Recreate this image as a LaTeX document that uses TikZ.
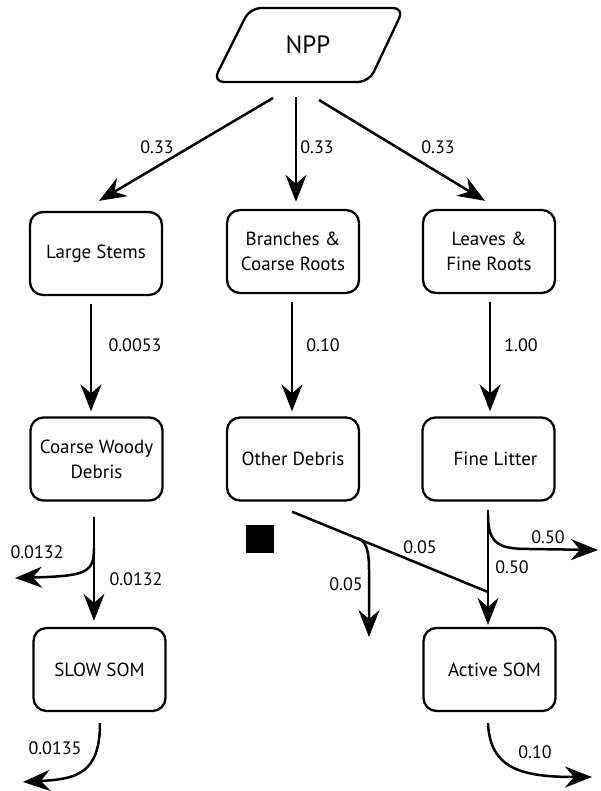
\documentclass[tikz,border=0pt]{standalone}
\usepackage{fontspec}
\setmainfont{PT Sans}
\usetikzlibrary{arrows.meta}
\begin{document}
\begin{tikzpicture}[x=1pt,y=-1pt,
  box/.style={draw, line width=2.3pt, rounded corners=13pt, minimum width=132pt, minimum height=83pt, align=center, font=\fontsize{19}{25}\selectfont, inner sep=0pt},
  arr/.style={line width=2.5pt, -{Stealth[length=27pt,width=21pt,inset=9pt]}},
  ln/.style={line width=2.5pt},
  lbl/.style={font=\fontsize{18}{20}\selectfont, inner sep=0pt}]
\useasboundingbox (0,0) rectangle (600,791);

% NPP
\draw[line width=2.3pt, rounded corners=11pt] (213,82) -- (250,8) -- (404,8) -- (369,82) -- cycle;
\node[font=\fontsize{25}{25}\selectfont, inner sep=0pt] (NPP) at (308,45) {NPP};

% boxes
\node[box] (LS) at (96,253.5) {Large Stems};
\node[box] (BR) at (293,251.5) {Branches \&\\Coarse Roots};
\node[box] (LF) at (489,251.5) {Leaves \&\\Fine Roots};
\node[box] (CWD) at (96.5,459) {Coarse Woody\\Debris};
\node[box] (OD) at (293,459) {Other Debris};
\node[box] (FL) at (488.5,459) {\hspace*{14pt}Fine Litter};
\node[box] (SS) at (99.5,669.5) {SLOW SOM};
\node[box] (AS) at (489.5,669.5) {\hspace*{10pt}Active SOM};

\node[fill=black, minimum size=28pt, inner sep=0pt] (sq) at (259.5,539) {};

% coordinates
\coordinate (n1) at (273,98);
\coordinate (n2) at (296,97);
\coordinate (n3) at (319,100);
\coordinate (J) at (488,592);
\coordinate (e1) at (15,578);
\coordinate (e2) at (369,637);
\coordinate (e3) at (598,550);
\coordinate (e4) at (23,782);
\coordinate (e5) at (592,777);

% NPP arrows
\draw[arr] (n1) -- ([xshift=3pt,yshift=10pt]LS.north);
\draw[arr] (n2) -- ([xshift=3pt,yshift=7pt]BR.north);
\draw[arr] (n3) -- ([xshift=-4pt,yshift=8pt]LF.north);
\node[lbl] at (157,147) {0.33};
\node[lbl] at (317,147) {0.33};
\node[lbl] at (438,147) {0.33};

% row1 -> row2
\draw[arr] ([xshift=-5pt,yshift=-8pt]LS.south) -- ([xshift=-5.5pt,yshift=5pt]CWD.north);
\draw[arr] ([xshift=-1pt,yshift=-8pt]BR.south) -- ([xshift=-1pt,yshift=5pt]OD.north);
\draw[arr] ([xshift=1pt,yshift=-8pt]LF.south) -- ([xshift=1.5pt,yshift=5pt]FL.north);
\node[lbl] at (135,345) {0.0053};
\node[lbl] at (323,345) {0.10};
\node[lbl] at (521,345) {1.00};

% left column
\draw[arr] ([xshift=-2.5pt,yshift=-15pt]CWD.south) -- ([xshift=-5.5pt,yshift=6pt]SS.north);
\draw[arr] (94,548) .. controls (94,573) and (86,576) .. (e1);
\node[lbl] at (37,552) {0.0132};
\node[lbl] at (136,579) {0.0132};

% middle
\draw[ln] ([xshift=-1pt,yshift=-10pt]OD.south) -- (J);
\draw[arr] (358,538) .. controls (367,542) and (369,552) .. (369,570) -- (e2);
\node[lbl] at (420,547) {0.05};
\node[lbl] at (346,584) {0.05};

% right
\draw[arr] ([xshift=-0.5pt,yshift=-8pt]FL.south) -- ([xshift=-1.5pt,yshift=2pt]AS.north);
\draw[arr] (488,515) .. controls (488,545) and (500,549) .. (530,549) -- (e3);
\node[lbl] at (548,537) {0.50};
\node[lbl] at (512,567) {0.50};

% bottom
\draw[arr] ([xshift=0.5pt,yshift=-11pt]SS.south) .. controls (100,775) and (75,779) .. (e4);
\node[lbl] at (55,748) {0.0135};
\draw[arr] ([xshift=-1.5pt,yshift=-11pt]AS.south) .. controls (490,768) and (520,777) .. (e5);
\node[lbl] at (535,752) {0.10};
\end{tikzpicture}
\end{document}
